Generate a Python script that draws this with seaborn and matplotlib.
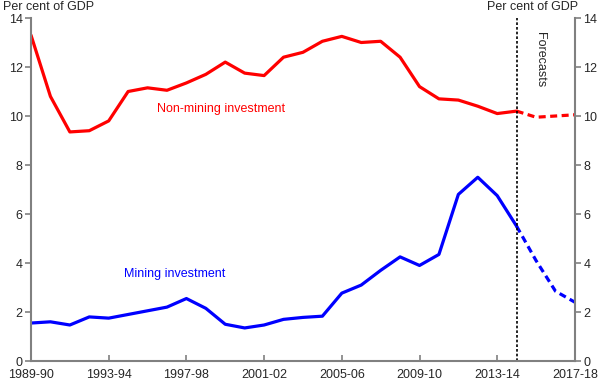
import matplotlib
matplotlib.use("Agg")
import matplotlib.pyplot as plt
import seaborn as sns
import pandas as pd
import numpy as np

sns.set_style("white")
plt.rcParams['font.family'] = ['Liberation Sans', 'DejaVu Sans']

years = ["1989-90","1990-91","1991-92","1992-93","1993-94","1994-95","1995-96","1996-97",
         "1997-98","1998-99","1999-00","2000-01","2001-02","2002-03","2003-04","2004-05",
         "2005-06","2006-07","2007-08","2008-09","2009-10","2010-11","2011-12","2012-13",
         "2013-14","2014-15","2015-16","2016-17","2017-18"]
non_mining = [13.3, 10.8, 9.35, 9.4, 9.8, 11.0, 11.15, 11.05, 11.35, 11.7, 12.2, 11.75, 11.65,
              12.4, 12.6, 13.05, 13.25, 13.0, 13.05, 12.4, 11.2, 10.7, 10.65, 10.4, 10.1,
              10.2, 9.95, 10.0, 10.05]
mining = [1.55, 1.6, 1.47, 1.8, 1.75, 1.9, 2.05, 2.2, 2.55, 2.15, 1.5, 1.35, 1.47, 1.7, 1.78,
          1.83, 2.77, 3.1, 3.7, 4.25, 3.9, 4.35, 6.8, 7.5, 6.75, 5.5, 4.1, 2.85, 2.4]
forecast_start = "2014-15"
tick_labels = ["1989-90","1993-94","1997-98","2001-02","2005-06","2009-10","2013-14","2017-18"]
yticks = [0, 2, 4, 6, 8, 10, 12, 14]

idx = np.arange(len(years))
fs = years.index(forecast_start)
df = pd.DataFrame({"i": idx, "nm": non_mining, "m": mining})
hist = df[df.i <= fs]
fc = df[df.i >= fs]

fig = plt.figure(figsize=(6.02, 3.83), dpi=100)
ax = fig.add_axes([0.0515, 0.0574, 0.9035, 0.8956])

red = "#ff0000"
blue = "#0000ff"
lw = 2.3
sns.lineplot(data=hist, x="i", y="nm", ax=ax, color=red, lw=lw)
sns.lineplot(data=fc, x="i", y="nm", ax=ax, color=red, lw=lw, linestyle=(0, (2.2, 1.4)))
sns.lineplot(data=hist, x="i", y="m", ax=ax, color=blue, lw=lw)
sns.lineplot(data=fc, x="i", y="m", ax=ax, color=blue, lw=lw, linestyle=(0, (2.2, 1.4)))
ax.axvline(fs, color="black", lw=1.2, linestyle=(0, (1.6, 1.2)))

ax.set_xlim(0, len(years) - 1)
ax.set_ylim(0, 14)
ax.set_xlabel("")
ax.set_ylabel("")
ax.set_xticks([years.index(t) for t in tick_labels])
ax.set_xticklabels(tick_labels, fontsize=9)
ax.set_yticks(yticks)
ax.set_yticklabels([str(v) for v in yticks], fontsize=9)

ax2 = ax.twinx()
ax2.set_ylim(0, 14)
ax2.set_yticks(yticks)
ax2.set_yticklabels([str(v) for v in yticks], fontsize=9)

gray = "#808080"
for a in (ax, ax2):
    a.spines["top"].set_visible(False)
    for s in ("left", "right", "bottom"):
        a.spines[s].set_color(gray)
        a.spines[s].set_linewidth(1.5)
ax.spines["right"].set_visible(False)
ax2.spines["left"].set_visible(False)
ax2.spines["bottom"].set_visible(False)
ax.tick_params(axis="y", direction="out", length=4, color=gray, width=1.2, left=True, pad=2)
ax.tick_params(axis="x", direction="in", length=4, color=gray, width=1.2, bottom=True, pad=6)
ax2.tick_params(axis="y", direction="out", length=4, color=gray, width=1.2, right=True, pad=2)

fig.text(0.005, 0.982, "Per cent of GDP", fontsize=9, ha="left", va="center")
fig.text(0.96, 0.982, "Per cent of GDP", fontsize=9, ha="right", va="center")
ax.text(fs + 1.2, 12.3, "Forecasts", rotation=270, fontsize=9, ha="center", va="center")
ax.text(9.8, 10.3, "Non-mining investment", color=red, fontsize=9, ha="center", va="center")
ax.text(7.4, 3.55, "Mining investment", color=blue, fontsize=9, ha="center", va="center")

fig.savefig("out.png", dpi=100)
